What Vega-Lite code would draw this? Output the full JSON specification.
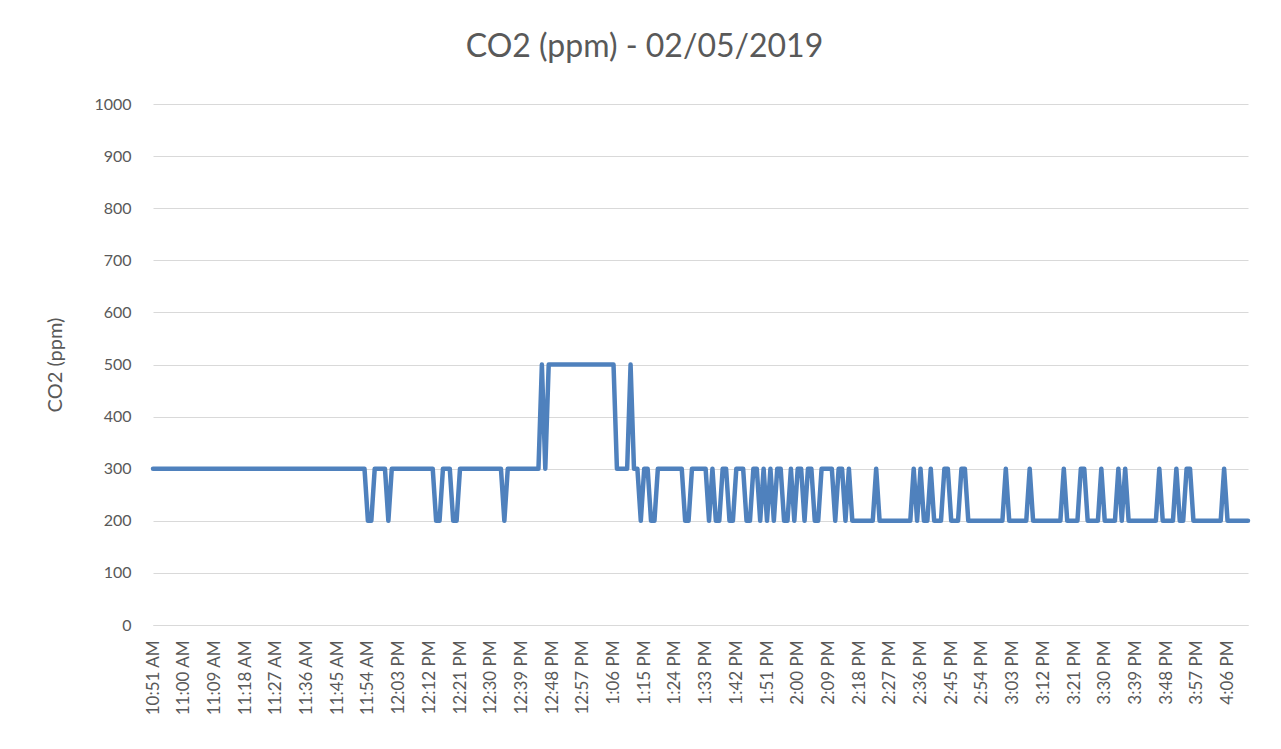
{
"$schema": "https://vega.github.io/schema/vega-lite/v6.json",
"width": 1095,
"height": 521,
"autosize": "none",
"padding": {"left": 153, "top": 104, "right": 33, "bottom": 124},
"background": "white",
"title": {"text": "CO2 (ppm) - 02/05/2019", "fontSize": 32, "font": "Lato", "fontWeight": "normal", "color": "#595959", "anchor": "middle", "dx": -56, "offset": 7, "baseline": "alphabetic"},
"data": {"values": [
{"time":"10:51 AM","co2":300},{"time":"10:52 AM","co2":300},{"time":"10:53 AM","co2":300},{"time":"10:54 AM","co2":300},{"time":"10:55 AM","co2":300},{"time":"10:56 AM","co2":300},{"time":"10:57 AM","co2":300},{"time":"10:58 AM","co2":300},{"time":"10:59 AM","co2":300},
{"time":"11:00 AM","co2":300},{"time":"11:01 AM","co2":300},{"time":"11:02 AM","co2":300},{"time":"11:03 AM","co2":300},{"time":"11:04 AM","co2":300},{"time":"11:05 AM","co2":300},{"time":"11:06 AM","co2":300},{"time":"11:07 AM","co2":300},{"time":"11:08 AM","co2":300},{"time":"11:09 AM","co2":300},
{"time":"11:10 AM","co2":300},{"time":"11:11 AM","co2":300},{"time":"11:12 AM","co2":300},{"time":"11:13 AM","co2":300},{"time":"11:14 AM","co2":300},{"time":"11:15 AM","co2":300},{"time":"11:16 AM","co2":300},{"time":"11:17 AM","co2":300},{"time":"11:18 AM","co2":300},{"time":"11:19 AM","co2":300},
{"time":"11:20 AM","co2":300},{"time":"11:21 AM","co2":300},{"time":"11:22 AM","co2":300},{"time":"11:23 AM","co2":300},{"time":"11:24 AM","co2":300},{"time":"11:25 AM","co2":300},{"time":"11:26 AM","co2":300},{"time":"11:27 AM","co2":300},{"time":"11:28 AM","co2":300},{"time":"11:29 AM","co2":300},
{"time":"11:30 AM","co2":300},{"time":"11:31 AM","co2":300},{"time":"11:32 AM","co2":300},{"time":"11:33 AM","co2":300},{"time":"11:34 AM","co2":300},{"time":"11:35 AM","co2":300},{"time":"11:36 AM","co2":300},{"time":"11:37 AM","co2":300},{"time":"11:38 AM","co2":300},{"time":"11:39 AM","co2":300},
{"time":"11:40 AM","co2":300},{"time":"11:41 AM","co2":300},{"time":"11:42 AM","co2":300},{"time":"11:43 AM","co2":300},{"time":"11:44 AM","co2":300},{"time":"11:45 AM","co2":300},{"time":"11:46 AM","co2":300},{"time":"11:47 AM","co2":300},{"time":"11:48 AM","co2":300},{"time":"11:49 AM","co2":300},
{"time":"11:50 AM","co2":300},{"time":"11:51 AM","co2":300},{"time":"11:52 AM","co2":300},{"time":"11:53 AM","co2":300},{"time":"11:54 AM","co2":200},{"time":"11:55 AM","co2":200},{"time":"11:56 AM","co2":300},{"time":"11:57 AM","co2":300},{"time":"11:58 AM","co2":300},{"time":"11:59 AM","co2":300},
{"time":"12:00 PM","co2":200},{"time":"12:01 PM","co2":300},{"time":"12:02 PM","co2":300},{"time":"12:03 PM","co2":300},{"time":"12:04 PM","co2":300},{"time":"12:05 PM","co2":300},{"time":"12:06 PM","co2":300},{"time":"12:07 PM","co2":300},{"time":"12:08 PM","co2":300},{"time":"12:09 PM","co2":300},
{"time":"12:10 PM","co2":300},{"time":"12:11 PM","co2":300},{"time":"12:12 PM","co2":300},{"time":"12:13 PM","co2":300},{"time":"12:14 PM","co2":200},{"time":"12:15 PM","co2":200},{"time":"12:16 PM","co2":300},{"time":"12:17 PM","co2":300},{"time":"12:18 PM","co2":300},{"time":"12:19 PM","co2":200},
{"time":"12:20 PM","co2":200},{"time":"12:21 PM","co2":300},{"time":"12:22 PM","co2":300},{"time":"12:23 PM","co2":300},{"time":"12:24 PM","co2":300},{"time":"12:25 PM","co2":300},{"time":"12:26 PM","co2":300},{"time":"12:27 PM","co2":300},{"time":"12:28 PM","co2":300},{"time":"12:29 PM","co2":300},
{"time":"12:30 PM","co2":300},{"time":"12:31 PM","co2":300},{"time":"12:32 PM","co2":300},{"time":"12:33 PM","co2":300},{"time":"12:34 PM","co2":200},{"time":"12:35 PM","co2":300},{"time":"12:36 PM","co2":300},{"time":"12:37 PM","co2":300},{"time":"12:38 PM","co2":300},{"time":"12:39 PM","co2":300},
{"time":"12:40 PM","co2":300},{"time":"12:41 PM","co2":300},{"time":"12:42 PM","co2":300},{"time":"12:43 PM","co2":300},{"time":"12:44 PM","co2":300},{"time":"12:45 PM","co2":500},{"time":"12:46 PM","co2":300},{"time":"12:47 PM","co2":500},{"time":"12:48 PM","co2":500},{"time":"12:49 PM","co2":500},
{"time":"12:50 PM","co2":500},{"time":"12:51 PM","co2":500},{"time":"12:52 PM","co2":500},{"time":"12:53 PM","co2":500},{"time":"12:54 PM","co2":500},{"time":"12:55 PM","co2":500},{"time":"12:56 PM","co2":500},{"time":"12:57 PM","co2":500},{"time":"12:58 PM","co2":500},{"time":"12:59 PM","co2":500},
{"time":"1:00 PM","co2":500},{"time":"1:01 PM","co2":500},{"time":"1:02 PM","co2":500},{"time":"1:03 PM","co2":500},{"time":"1:04 PM","co2":500},{"time":"1:05 PM","co2":500},{"time":"1:06 PM","co2":500},{"time":"1:07 PM","co2":300},{"time":"1:08 PM","co2":300},{"time":"1:09 PM","co2":300},
{"time":"1:10 PM","co2":300},{"time":"1:11 PM","co2":500},{"time":"1:12 PM","co2":300},{"time":"1:13 PM","co2":300},{"time":"1:14 PM","co2":200},{"time":"1:15 PM","co2":300},{"time":"1:16 PM","co2":300},{"time":"1:17 PM","co2":200},{"time":"1:18 PM","co2":200},{"time":"1:19 PM","co2":300},
{"time":"1:20 PM","co2":300},{"time":"1:21 PM","co2":300},{"time":"1:22 PM","co2":300},{"time":"1:23 PM","co2":300},{"time":"1:24 PM","co2":300},{"time":"1:25 PM","co2":300},{"time":"1:26 PM","co2":300},{"time":"1:27 PM","co2":200},{"time":"1:28 PM","co2":200},{"time":"1:29 PM","co2":300},
{"time":"1:30 PM","co2":300},{"time":"1:31 PM","co2":300},{"time":"1:32 PM","co2":300},{"time":"1:33 PM","co2":300},{"time":"1:34 PM","co2":200},{"time":"1:35 PM","co2":300},{"time":"1:36 PM","co2":200},{"time":"1:37 PM","co2":200},{"time":"1:38 PM","co2":300},{"time":"1:39 PM","co2":300},
{"time":"1:40 PM","co2":200},{"time":"1:41 PM","co2":200},{"time":"1:42 PM","co2":300},{"time":"1:43 PM","co2":300},{"time":"1:44 PM","co2":300},{"time":"1:45 PM","co2":200},{"time":"1:46 PM","co2":200},{"time":"1:47 PM","co2":300},{"time":"1:48 PM","co2":300},{"time":"1:49 PM","co2":200},
{"time":"1:50 PM","co2":300},{"time":"1:51 PM","co2":200},{"time":"1:52 PM","co2":300},{"time":"1:53 PM","co2":200},{"time":"1:54 PM","co2":300},{"time":"1:55 PM","co2":300},{"time":"1:56 PM","co2":200},{"time":"1:57 PM","co2":200},{"time":"1:58 PM","co2":300},{"time":"1:59 PM","co2":200},
{"time":"2:00 PM","co2":300},{"time":"2:01 PM","co2":300},{"time":"2:02 PM","co2":200},{"time":"2:03 PM","co2":300},{"time":"2:04 PM","co2":300},{"time":"2:05 PM","co2":200},{"time":"2:06 PM","co2":200},{"time":"2:07 PM","co2":300},{"time":"2:08 PM","co2":300},{"time":"2:09 PM","co2":300},
{"time":"2:10 PM","co2":300},{"time":"2:11 PM","co2":200},{"time":"2:12 PM","co2":300},{"time":"2:13 PM","co2":300},{"time":"2:14 PM","co2":200},{"time":"2:15 PM","co2":300},{"time":"2:16 PM","co2":200},{"time":"2:17 PM","co2":200},{"time":"2:18 PM","co2":200},{"time":"2:19 PM","co2":200},
{"time":"2:20 PM","co2":200},{"time":"2:21 PM","co2":200},{"time":"2:22 PM","co2":200},{"time":"2:23 PM","co2":300},{"time":"2:24 PM","co2":200},{"time":"2:25 PM","co2":200},{"time":"2:26 PM","co2":200},{"time":"2:27 PM","co2":200},{"time":"2:28 PM","co2":200},{"time":"2:29 PM","co2":200},
{"time":"2:30 PM","co2":200},{"time":"2:31 PM","co2":200},{"time":"2:32 PM","co2":200},{"time":"2:33 PM","co2":200},{"time":"2:34 PM","co2":300},{"time":"2:35 PM","co2":200},{"time":"2:36 PM","co2":300},{"time":"2:37 PM","co2":200},{"time":"2:38 PM","co2":200},{"time":"2:39 PM","co2":300},
{"time":"2:40 PM","co2":200},{"time":"2:41 PM","co2":200},{"time":"2:42 PM","co2":200},{"time":"2:43 PM","co2":300},{"time":"2:44 PM","co2":300},{"time":"2:45 PM","co2":200},{"time":"2:46 PM","co2":200},{"time":"2:47 PM","co2":200},{"time":"2:48 PM","co2":300},{"time":"2:49 PM","co2":300},
{"time":"2:50 PM","co2":200},{"time":"2:51 PM","co2":200},{"time":"2:52 PM","co2":200},{"time":"2:53 PM","co2":200},{"time":"2:54 PM","co2":200},{"time":"2:55 PM","co2":200},{"time":"2:56 PM","co2":200},{"time":"2:57 PM","co2":200},{"time":"2:58 PM","co2":200},{"time":"2:59 PM","co2":200},
{"time":"3:00 PM","co2":200},{"time":"3:01 PM","co2":300},{"time":"3:02 PM","co2":200},{"time":"3:03 PM","co2":200},{"time":"3:04 PM","co2":200},{"time":"3:05 PM","co2":200},{"time":"3:06 PM","co2":200},{"time":"3:07 PM","co2":200},{"time":"3:08 PM","co2":300},{"time":"3:09 PM","co2":200},
{"time":"3:10 PM","co2":200},{"time":"3:11 PM","co2":200},{"time":"3:12 PM","co2":200},{"time":"3:13 PM","co2":200},{"time":"3:14 PM","co2":200},{"time":"3:15 PM","co2":200},{"time":"3:16 PM","co2":200},{"time":"3:17 PM","co2":200},{"time":"3:18 PM","co2":300},{"time":"3:19 PM","co2":200},
{"time":"3:20 PM","co2":200},{"time":"3:21 PM","co2":200},{"time":"3:22 PM","co2":200},{"time":"3:23 PM","co2":300},{"time":"3:24 PM","co2":300},{"time":"3:25 PM","co2":200},{"time":"3:26 PM","co2":200},{"time":"3:27 PM","co2":200},{"time":"3:28 PM","co2":200},{"time":"3:29 PM","co2":300},
{"time":"3:30 PM","co2":200},{"time":"3:31 PM","co2":200},{"time":"3:32 PM","co2":200},{"time":"3:33 PM","co2":200},{"time":"3:34 PM","co2":300},{"time":"3:35 PM","co2":200},{"time":"3:36 PM","co2":300},{"time":"3:37 PM","co2":200},{"time":"3:38 PM","co2":200},{"time":"3:39 PM","co2":200},
{"time":"3:40 PM","co2":200},{"time":"3:41 PM","co2":200},{"time":"3:42 PM","co2":200},{"time":"3:43 PM","co2":200},{"time":"3:44 PM","co2":200},{"time":"3:45 PM","co2":200},{"time":"3:46 PM","co2":300},{"time":"3:47 PM","co2":200},{"time":"3:48 PM","co2":200},{"time":"3:49 PM","co2":200},
{"time":"3:50 PM","co2":200},{"time":"3:51 PM","co2":300},{"time":"3:52 PM","co2":200},{"time":"3:53 PM","co2":200},{"time":"3:54 PM","co2":300},{"time":"3:55 PM","co2":300},{"time":"3:56 PM","co2":200},{"time":"3:57 PM","co2":200},{"time":"3:58 PM","co2":200},{"time":"3:59 PM","co2":200},
{"time":"4:00 PM","co2":200},{"time":"4:01 PM","co2":200},{"time":"4:02 PM","co2":200},{"time":"4:03 PM","co2":200},{"time":"4:04 PM","co2":200},{"time":"4:05 PM","co2":300},{"time":"4:06 PM","co2":200},{"time":"4:07 PM","co2":200},{"time":"4:08 PM","co2":200},{"time":"4:09 PM","co2":200},
{"time":"4:10 PM","co2":200},{"time":"4:11 PM","co2":200},{"time":"4:12 PM","co2":200}
]},
"mark": {"type": "line", "color": "#4f81bd", "strokeWidth": 4.5, "strokeJoin": "round", "strokeCap": "round"},
"encoding": {
"x": {"field": "time", "type": "ordinal", "sort": null, "scale": {"type": "point", "padding": 0},
 "axis": {"title": null, "values": ["10:51 AM","11:00 AM","11:09 AM","11:18 AM","11:27 AM","11:36 AM","11:45 AM","11:54 AM","12:03 PM","12:12 PM","12:21 PM","12:30 PM","12:39 PM","12:48 PM","12:57 PM","1:06 PM","1:15 PM","1:24 PM","1:33 PM","1:42 PM","1:51 PM","2:00 PM","2:09 PM","2:18 PM","2:27 PM","2:36 PM","2:45 PM","2:54 PM","3:03 PM","3:12 PM","3:21 PM","3:30 PM","3:39 PM","3:48 PM","3:57 PM","4:06 PM"],
  "labelAngle": -90, "ticks": false, "grid": false, "domainColor": "#d9d9d9", "domainWidth": 1, "labelFont": "Lato", "labelFontSize": 17, "labelColor": "#595959", "labelPadding": 15, "labelOverlap": false}},
"y": {"field": "co2", "type": "quantitative", "scale": {"domain": [0, 1000], "nice": false},
 "axis": {"title": "CO2 (ppm)", "format": "d", "values": [0,100,200,300,400,500,600,700,800,900,1000], "domain": false, "ticks": false, "grid": true, "gridColor": "#d9d9d9", "gridWidth": 1, "labelFont": "Lato", "labelFontSize": 16, "labelColor": "#595959", "labelPadding": 22, "titleFont": "Lato", "titleFontSize": 20, "titleFontWeight": "normal", "titleColor": "#595959", "titlePadding": 28}}
},
"config": {"view": {"stroke": null}}
}
